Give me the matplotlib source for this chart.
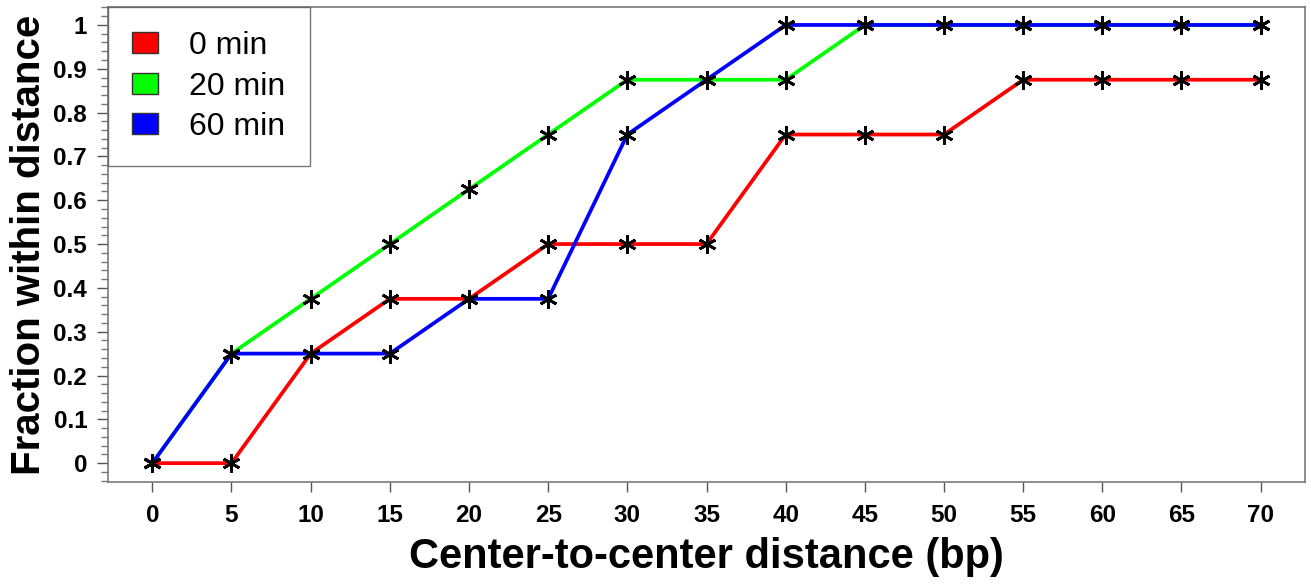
import matplotlib
matplotlib.use("Agg")
import matplotlib.pyplot as plt
from matplotlib.patches import Patch
from matplotlib.ticker import MultipleLocator

plt.rcParams['font.family'] = ['Liberation Sans', 'DejaVu Sans']

distance = [0, 5, 10, 15, 20, 25, 30, 35, 40, 45, 50, 55, 60, 65, 70]
min0 = [0, 0, 0.25, 0.375, 0.375, 0.5, 0.5, 0.5, 0.75, 0.75, 0.75, 0.875, 0.875, 0.875, 0.875]
min20 = [0, 0.25, 0.375, 0.5, 0.625, 0.75, 0.875, 0.875, 0.875, 1, 1, 1, 1, 1, 1]
min60 = [0, 0.25, 0.25, 0.25, 0.375, 0.375, 0.75, 0.875, 1, 1, 1, 1, 1, 1, 1]
series_labels = ['0 min', '20 min', '60 min']
series_colors = ['#ff0000', '#00ff00', '#0000ff']
xticks = list(range(0, 75, 5))
yticks = [0, 0.1, 0.2, 0.3, 0.4, 0.5, 0.6, 0.7, 0.8, 0.9, 1]
ytick_labels = ['0', '0.1', '0.2', '0.3', '0.4', '0.5', '0.6', '0.7', '0.8', '0.9', '1']

fig = plt.figure(figsize=(13.11, 5.86), dpi=100)
ax = fig.add_axes([108/1311, 1-482/586, (1305-108)/1311, (482-7)/586])

for ys, c in zip([min0, min20, min60], series_colors):
    ax.plot(distance, ys, color=c, lw=2.7, zorder=2)
for ys in [min0, min20, min60]:
    ax.plot(distance, ys, ls='none', marker=(6, 2, 0), ms=13, mew=2.0,
            color='black', zorder=3)

ax.set_xlim(-2.8, 72.8)
ax.set_ylim(-0.043, 1.041)
ax.set_xticks(xticks)
ax.set_xticklabels([str(x) for x in xticks])
ax.set_yticks(yticks)
ax.set_yticklabels(ytick_labels)
ax.yaxis.set_minor_locator(MultipleLocator(0.02))

for lab in ax.get_xticklabels() + ax.get_yticklabels():
    lab.set_fontweight('bold')
    lab.set_fontsize(17.5)

for s in ax.spines.values():
    s.set_color('#7a7a7a')
    s.set_linewidth(1.2)

ax.tick_params(axis='x', which='major', direction='out', length=7, width=1.0,
               color='#555555', pad=9)
ax.tick_params(axis='y', which='major', direction='out', length=8, width=1.0,
               color='#555555', pad=7)
ax.tick_params(axis='y', which='minor', direction='out', length=5, width=1.0,
               color='#777777')

ax.set_xlabel('Center-to-center distance (bp)', fontsize=30, fontweight='bold', labelpad=7)
ax.set_ylabel('Fraction within distance', fontsize=29, fontweight='bold', labelpad=4)

handles = [Patch(facecolor=c, edgecolor='#333333', label=l)
           for c, l in zip(series_colors, series_labels)]
leg = ax.legend(handles=handles, loc='upper left', bbox_to_anchor=(0, 1),
                fontsize=23, frameon=True, fancybox=False, borderaxespad=0,
                handlelength=0.8, handleheight=0.65, handletextpad=1.0,
                borderpad=0.75, labelspacing=0.33)
leg.get_frame().set_edgecolor('#555555')
leg.get_frame().set_linewidth(1.0)

fig.savefig('out.png', dpi=100)
